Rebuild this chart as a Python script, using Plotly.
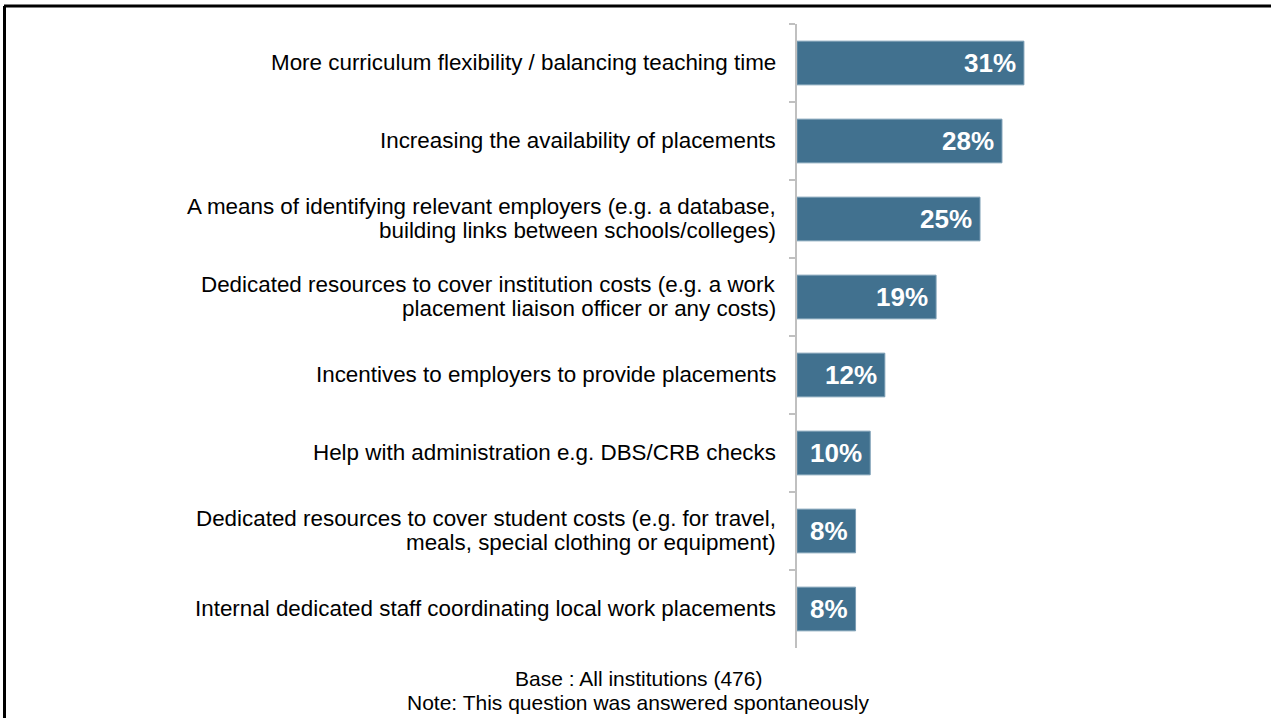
import plotly.graph_objects as go

categories = [
    "More curriculum flexibility / balancing teaching time",
    "Increasing the availability of placements",
    "A means of identifying relevant employers (e.g. a database,<br>building links between schools/colleges)",
    "Dedicated resources to cover institution costs (e.g. a work<br>placement liaison officer or any costs)",
    "Incentives to employers to provide placements",
    "Help with administration e.g. DBS/CRB checks",
    "Dedicated resources to cover student costs (e.g. for travel,<br>meals, special clothing or equipment)",
    "Internal dedicated staff coordinating local work placements",
]
values = [31, 28, 25, 19, 12, 10, 8, 8]
footer_lines = ["Base : All institutions (476)", "Note: This question was answered spontaneously"]

BAR_COLOR = "#41718f"
FONT = "Liberation Sans, Arial, sans-serif"

# plot-area geometry in pixels (used to place paper-referenced items)
PL, PR, PT, PB = 797, 1236, 24, 648
PW, PH = PR - PL, PB - PT


def px_x(x):
    return (x - PL) / PW


def px_y(y):
    return (PB - y) / PH


fig = go.Figure(
    go.Bar(
        x=values,
        y=categories,
        orientation="h",
        marker=dict(color=BAR_COLOR, line=dict(color="#7a9db4", width=1)),
        width=0.56,
        hoverinfo="skip",
    )
)

# value labels, right-aligned inside each bar end
for c, v in zip(categories, values):
    fig.add_annotation(
        x=v, y=c, xref="x", yref="y",
        text=f"<b>{v}%</b>", showarrow=False,
        xanchor="right", xshift=-6,
        font=dict(family=FONT, size=26, color="white"),
    )

# category labels, one annotation per line for tight line spacing
LINE_STEP = 24
for c in categories:
    lines = c.split("<br>")
    n = len(lines)
    for i, line in enumerate(lines):
        offset = ((n - 1) / 2 - i) * LINE_STEP + 1
        fig.add_annotation(
            x=px_x(778), y=c, xref="paper", yref="y",
            text=line, showarrow=False,
            xanchor="right", yanchor="middle", yshift=offset,
            font=dict(family=FONT, size=22.4, color="#000000"),
        )

# footer notes
for i, line in enumerate(footer_lines):
    fig.add_annotation(
        x=px_x(638), y=px_y(678 + 24 * i), xref="paper", yref="paper",
        text=line, showarrow=False, xanchor="center", yanchor="middle",
        font=dict(family=FONT, size=21, color="#000000"),
    )

# frame lines along the top and left edges
fig.add_shape(type="line", xref="paper", yref="paper",
              x0=px_x(4), x1=px_x(1275), y0=px_y(6), y1=px_y(6),
              line=dict(color="#000000", width=3))
fig.add_shape(type="line", xref="paper", yref="paper",
              x0=px_x(4.5), x1=px_x(4.5), y0=px_y(6), y1=px_y(722),
              line=dict(color="#000000", width=3))

fig.update_layout(
    width=1271, height=718,
    margin=dict(l=PL, r=1271 - PR, t=PT, b=718 - PB),
    paper_bgcolor="white", plot_bgcolor="white",
    showlegend=False,
    font=dict(family=FONT, size=19, color="#000000"),
    xaxis=dict(range=[0, PW / 7.32], visible=False, fixedrange=True),
    yaxis=dict(
        autorange="reversed",
        showline=True, linecolor="#c0c0c0", linewidth=2,
        ticks="outside", ticklen=6, tickcolor="#c0c0c0", tickwidth=1.5,
        tickson="boundaries",
        showticklabels=False,
        showgrid=False, zeroline=False,
    ),
)

fig.write_html("out.html")
